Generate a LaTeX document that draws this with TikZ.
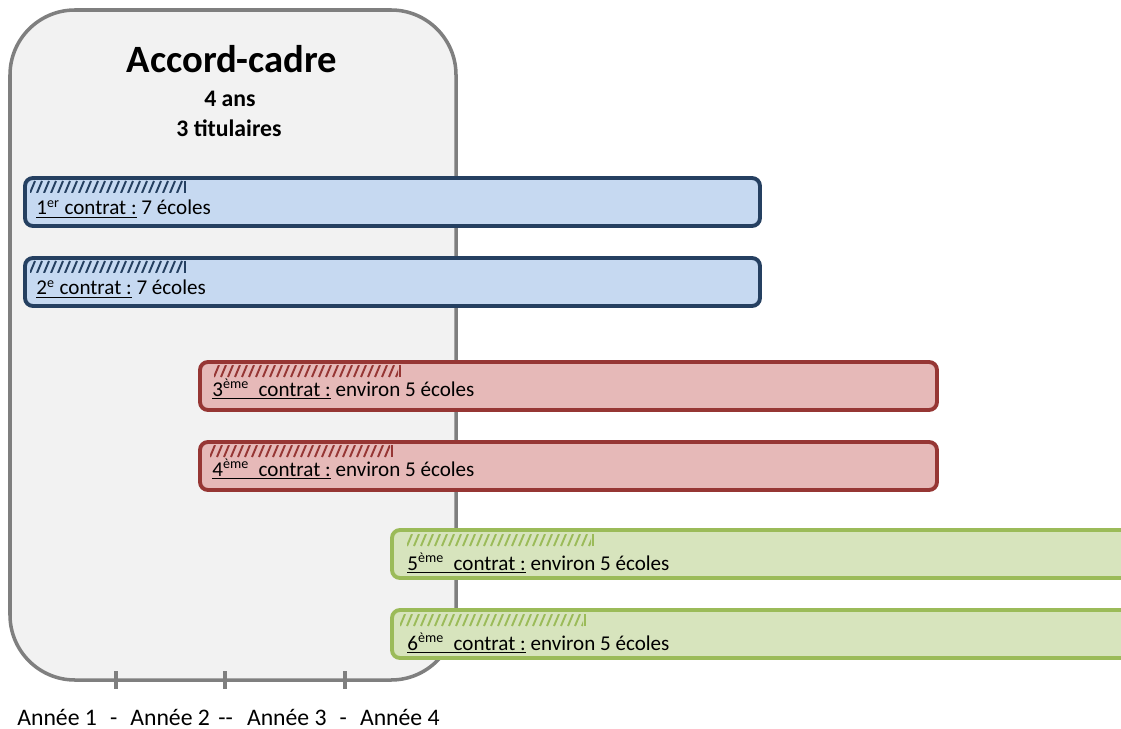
\documentclass[tikz,border=0pt]{standalone}
\usepackage{fontspec}
\setmainfont{Carlito}
\usetikzlibrary{calc}
\definecolor{cadregris}{RGB}{127,127,127}
\definecolor{cadrefond}{RGB}{242,242,242}
\definecolor{bleu}{RGB}{37,64,97}
\definecolor{rouge}{RGB}{150,54,52}
\definecolor{vert}{RGB}{155,187,89}
\definecolor{bleu-fond}{RGB}{198,217,241}
\definecolor{rouge-fond}{RGB}{230,185,184}
\definecolor{vert-fond}{RGB}{215,228,189}

\tikzset{
  cadre/.style={draw=cadregris, fill=cadrefond, line width=2pt, rounded corners=1.3cm},
  graduation/.style={draw=cadregris, line width=2.3pt},
  barre/.style={line width=2.2pt, rounded corners=0.16cm},
  libelle/.style={anchor=base west, inner sep=0pt, font=\fontsize{12}{14}\selectfont},
}

% hachures en haut d'une barre : x debut, x fin, y haut, couleur
\newcommand{\hachures}[4]{%
  \begin{scope}
    \clip (#1,#3) rectangle (#2-2,#3+12);
    \foreach \i in {0,...,30}
      \draw[#4, line width=1.1pt] (#1+\i*7,#3+12) -- (#1+\i*7+5,#3);
  \end{scope}
  \draw[#4, line width=0.6pt] (#2,#3) -- (#2,#3+12);
}

\begin{document}
\begin{tikzpicture}[x=0.02cm, y=-0.02cm]

    \clip (0,0) rectangle (1121,729);

    % accord-cadre
    \draw[cadre] (10,10) rectangle (456,680);
    \foreach \x in {116,225,345}
      \draw[graduation] (\x,671) -- (\x,689);
    \node[anchor=base, font=\bfseries\fontsize{22}{26}\selectfont] (titre) at (232,73) {Accord-cadre};
    \node[anchor=base, font=\bfseries\fontsize{13.5}{16}\selectfont] (duree) at (230,107) {4 ans};
    \node[anchor=base, font=\bfseries\fontsize{13.5}{16}\selectfont] (titulaires) at (229,137) {3 titulaires};

    % contrats 1 et 2
    \draw[barre, draw=bleu, fill=bleu-fond] (25,178) rectangle (760,226);
    \hachures{30}{185}{181}{bleu}
    \node[libelle] (contrat1) at (36,215) {\underline{1\textsuperscript{er} contrat :} 7 écoles};
    \draw[barre, draw=bleu, fill=bleu-fond] (25,258) rectangle (760,306);
    \hachures{30}{185}{261}{bleu}
    \node[libelle] (contrat2) at (36,295) {\underline{2\textsuperscript{e} contrat :} 7 écoles};

    % contrats 3 et 4
    \draw[barre, draw=rouge, fill=rouge-fond] (200,362) rectangle (937,410);
    \hachures{214}{400}{365}{rouge}
    \node[libelle] (contrat3) at (212,396) {\underline{3\textsuperscript{ème}\ \ contrat :} environ 5 écoles};
    \draw[barre, draw=rouge, fill=rouge-fond] (200,442) rectangle (937,490);
    \hachures{210}{392}{445}{rouge}
    \node[libelle] (contrat4) at (212,476) {\underline{4\textsuperscript{ème}\ \ contrat :} environ 5 écoles};

    % contrats 5 et 6
    \draw[barre, draw=vert, fill=vert-fond] (392,530) rectangle (1140,578);
    \hachures{407}{593}{534}{vert}
    \node[libelle] (contrat5) at (407,570) {\underline{5\textsuperscript{ème}\ \ contrat :} environ 5 écoles};
    \draw[barre, draw=vert, fill=vert-fond] (392,610) rectangle (1140,658);
    \hachures{400}{585}{614}{vert}
    \node[libelle] (contrat6) at (407,650) {\underline{6\textsuperscript{ème}\ \ contrat :} environ 5 écoles};

    \node[anchor=base west, inner sep=0pt, font=\fontsize{13.5}{16}\selectfont] (annees) at (17,725)
      {Année 1\hspace{0.55em}-\hspace{0.55em}Année 2\hspace{0.35em}-{}-\hspace{0.6em}Année 3\hspace{0.55em}-\hspace{0.55em}Année 4};

\end{tikzpicture}
\end{document}
